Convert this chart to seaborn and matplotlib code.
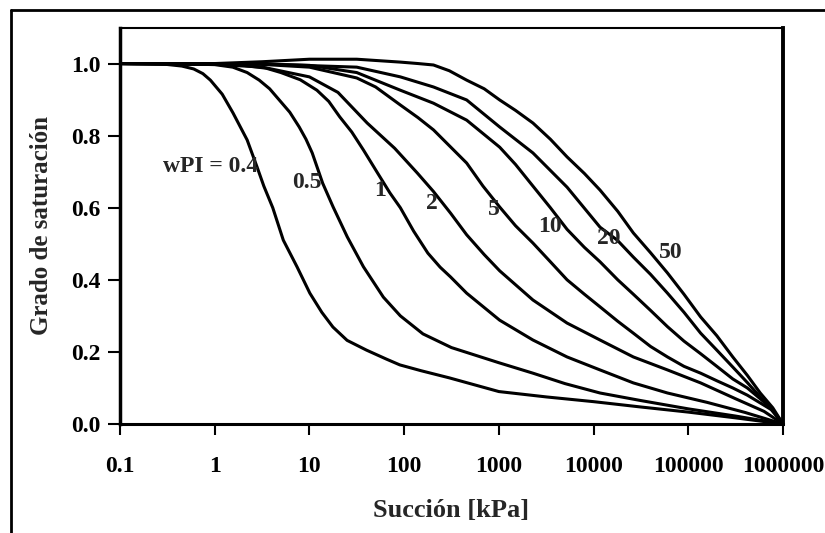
import matplotlib
matplotlib.use('Agg')
import matplotlib.pyplot as plt
import seaborn as sns
import pandas as pd
from matplotlib.lines import Line2D
from matplotlib.ticker import FixedLocator, NullLocator

# curvas: succion [kPa] y grado de saturacion
wpi_04_s = [0.1, 0.2, 0.3, 0.45, 0.6, 0.75, 0.9, 1.2, 1.56, 1.9, 2.2, 2.8, 3.3, 4.1, 5.3, 7.4, 10.1,
            13.5, 17.7, 25, 40, 65, 90, 150, 300, 1000, 3200, 10000, 32000, 100000, 316000, 1000000]
wpi_04_sr = [1.0, 0.999, 0.998, 0.993, 0.985, 0.972, 0.954, 0.915, 0.863, 0.82, 0.788, 0.713, 0.66,
             0.60, 0.51, 0.436, 0.363, 0.31, 0.269, 0.232, 0.205, 0.18, 0.164, 0.148, 0.128, 0.09,
             0.075, 0.062, 0.047, 0.033, 0.017, 0.0]

wpi_05_s = [0.1, 0.5, 1.0, 1.55, 2.2, 2.95, 3.8, 4.8, 6.2, 7.8, 9.2, 10.7, 13.8, 17.8, 25.1, 37.2,
            60.3, 91.2, 158, 316, 1000, 2290, 5000, 11700, 31600, 100000, 316000, 1000000]
wpi_05_sr = [1.0, 0.999, 0.997, 0.99, 0.975, 0.954, 0.93, 0.899, 0.865, 0.824, 0.79, 0.752, 0.668,
             0.602, 0.519, 0.436, 0.352, 0.30, 0.25, 0.212, 0.17, 0.141, 0.112, 0.086, 0.065, 0.042,
             0.022, 0.0]

wpi_1_s = [0.1, 1, 2, 3.5, 5, 8, 12, 16, 20.9, 28, 37.2, 52.5, 70.8, 91.2, 126, 178, 240, 309, 457,
           1020, 2290, 5250, 11700, 26300, 60300, 158000, 398000, 1000000]
wpi_1_sr = [1.0, 0.998, 0.995, 0.987, 0.975, 0.955, 0.926, 0.895, 0.852, 0.81, 0.76, 0.696, 0.641,
            0.60, 0.535, 0.474, 0.435, 0.408, 0.363, 0.288, 0.233, 0.186, 0.15, 0.114, 0.086, 0.06,
            0.032, 0.0]

wpi_2_s = [0.1, 1, 3.2, 10, 20, 40.7, 79.4, 138, 204, 309, 457, 700, 1020, 2290, 5250, 11700, 26300,
           60300, 135000, 316000, 631000, 1000000]
wpi_2_sr = [1.0, 0.998, 0.99, 0.963, 0.92, 0.835, 0.765, 0.696, 0.645, 0.585, 0.525, 0.47, 0.425,
            0.344, 0.28, 0.233, 0.186, 0.15, 0.114, 0.07, 0.035, 0.0]

wpi_5_s = [0.1, 3, 10, 31.6, 50, 91.2, 140, 204, 457, 680, 1020, 1500, 2290, 3500, 5250, 8000, 11700,
           18000, 26300, 40000, 60300, 90000, 135000, 200000, 295000, 420000, 562000, 750000, 1000000]
wpi_5_sr = [1.0, 0.998, 0.99, 0.96, 0.935, 0.885, 0.85, 0.816, 0.724, 0.66, 0.602, 0.55, 0.502, 0.45,
            0.40, 0.36, 0.325, 0.285, 0.252, 0.215, 0.186, 0.16, 0.141, 0.12, 0.10, 0.08, 0.06, 0.04,
            0.0]

wpi_10_s = [0.1, 3, 10, 31.6, 91.2, 204, 457, 1020, 1500, 2290, 3500, 5250, 8000, 11700, 18000, 26300,
            40000, 60300, 90000, 135000, 200000, 295000, 420000, 575000, 780000, 1000000]
wpi_10_sr = [1.0, 0.999, 0.995, 0.975, 0.926, 0.89, 0.843, 0.768, 0.72, 0.66, 0.60, 0.54, 0.49, 0.45,
             0.40, 0.36, 0.315, 0.27, 0.23, 0.195, 0.16, 0.125, 0.10, 0.07, 0.04, 0.0]

wpi_20_s = [0.1, 3, 31.6, 91.2, 204, 457, 1020, 2290, 5250, 11700, 17800, 26300, 40000, 60300, 90000,
            135000, 200000, 295000, 420000, 575000, 780000, 1000000]
wpi_20_sr = [1.0, 0.999, 0.99, 0.963, 0.935, 0.899, 0.824, 0.752, 0.657, 0.546, 0.51, 0.463, 0.415,
             0.363, 0.31, 0.252, 0.205, 0.158, 0.115, 0.075, 0.037, 0.0]

wpi_50_s = [0.1, 1.0, 3.16, 10, 31.6, 91.2, 140, 204, 300, 457, 700, 1020, 1500, 2290, 3500, 5250, 8000,
            11700, 18000, 26300, 40000, 60300, 90000, 135000, 200000, 295000, 420000, 575000, 780000,
            1000000]
wpi_50_sr = [1.0, 1.0, 1.005, 1.012, 1.012, 1.004, 1.0, 0.996, 0.98, 0.954, 0.93, 0.899, 0.87, 0.835,
             0.79, 0.741, 0.695, 0.649, 0.59, 0.53, 0.475, 0.419, 0.36, 0.297, 0.245, 0.186, 0.135,
             0.086, 0.045, 0.0]

curve_names = ['0.4', '0.5', '1', '2', '5', '10', '20', '50']
curve_s = [wpi_04_s, wpi_05_s, wpi_1_s, wpi_2_s, wpi_5_s, wpi_10_s, wpi_20_s, wpi_50_s]
curve_sr = [wpi_04_sr, wpi_05_sr, wpi_1_sr, wpi_2_sr, wpi_5_sr, wpi_10_sr, wpi_20_sr, wpi_50_sr]

# etiquetas de cada curva
label_text = ['wPI = 0.4', '0.5', '1', '2', '5', '10', '20', '50']
label_x = [2.9, 9.4, 55.6, 197, 891, 3470, 14500, 66000]
label_y = [0.713, 0.671, 0.649, 0.613, 0.594, 0.549, 0.516, 0.477]

x_ticks = [0.1, 1, 10, 100, 1000, 10000, 100000, 1000000]
x_tick_labels = ['0.1', '1', '10', '100', '1000', '10000', '100000', '1000000']
y_ticks = [0.0, 0.2, 0.4, 0.6, 0.8, 1.0]
y_tick_labels = ['0.0', '0.2', '0.4', '0.6', '0.8', '1.0']

rows = []
for name, xs, ys in zip(curve_names, curve_s, curve_sr):
    for x, y in zip(xs, ys):
        rows.append({'succion': x, 'sr': y, 'wPI': name})
df = pd.DataFrame(rows)

sns.set_theme(style='ticks')
plt.rcParams['font.family'] = ['Liberation Serif', 'DejaVu Serif']
plt.rcParams['font.weight'] = 'bold'

fig = plt.figure(figsize=(8.25, 5.33), dpi=100)
fig.patch.set_facecolor('white')
ax = fig.add_axes([120 / 825, 1 - 424 / 533, 663 / 825, 396.5 / 533])

sns.lineplot(data=df, x='succion', y='sr', hue='wPI', palette=['black'] * 8,
             estimator=None, sort=False, legend=False, lw=2.2, ax=ax)

ax.set_xscale('log')
ax.set_xlim(0.1, 1e6)
ax.set_ylim(0, 1.1)
ax.xaxis.set_major_locator(FixedLocator(x_ticks))
ax.xaxis.set_minor_locator(NullLocator())
ax.set_xticklabels(x_tick_labels)
ax.set_yticks(y_ticks)
ax.set_yticklabels(y_tick_labels)
ax.tick_params(axis='x', length=8, width=1.5, pad=15, labelsize=17, colors='black')
ax.tick_params(axis='y', length=9, width=1.5, pad=5, labelsize=17, colors='black')
for lab in ax.get_xticklabels() + ax.get_yticklabels():
    lab.set_fontweight('bold')

for side, w in [('left', 2.5), ('bottom', 2.2), ('right', 2.8), ('top', 1.5)]:
    ax.spines[side].set_visible(True)
    ax.spines[side].set_linewidth(w)
    ax.spines[side].set_color('black')

ax.set_xlabel('Succión [kPa]', fontsize=19, fontweight='bold')
ax.set_ylabel('Grado de saturación', fontsize=18, fontweight='bold')
ax.xaxis.set_label_coords(0.5, -0.19)
ax.yaxis.set_label_coords(-0.101, 0.5)

for t, x, y in zip(label_text, label_x, label_y):
    ha = 'right' if t.startswith('wPI') else 'center'
    ax.text(x, y, t, ha=ha, va='center', fontsize=17, fontweight='bold')

# marco exterior (cortado a la derecha y abajo)
fig.add_artist(Line2D([11 / 825, 11 / 825], [0, 1 - 10 / 533], color='black', lw=2, transform=fig.transFigure))
fig.add_artist(Line2D([11 / 825, 1], [1 - 10 / 533, 1 - 10 / 533], color='black', lw=2, transform=fig.transFigure))

plt.savefig('out.png', dpi=100, facecolor='white')
plt.close()
